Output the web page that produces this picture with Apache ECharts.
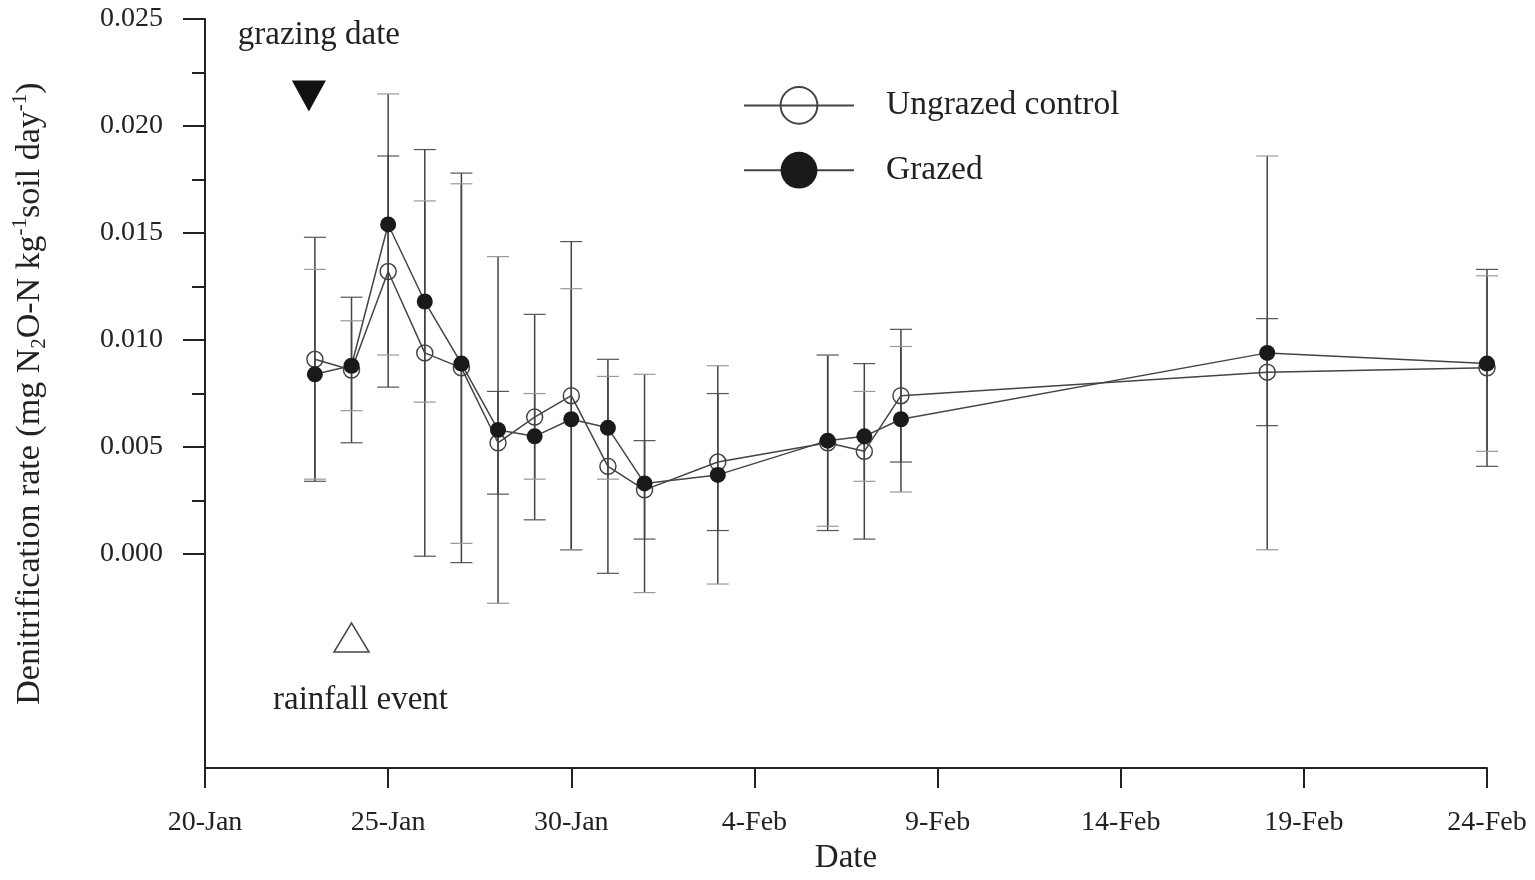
<!DOCTYPE html>
<html><head><meta charset="utf-8">
<script src="https://cdn.jsdelivr.net/npm/echarts@6/dist/echarts.min.js"></script>
<style>html,body{margin:0;padding:0;background:#fff}#c{width:1535px;height:880px}</style>
</head><body><div id="c"></div>
<script>
// ---- data ----
const startDate = '20-Jan';
const dates = ['23-Jan','24-Jan','25-Jan','26-Jan','27-Jan','28-Jan','29-Jan','30-Jan','31-Jan','1-Feb','3-Feb','6-Feb','7-Feb','8-Feb','18-Feb','24-Feb'];
const ungrazed    = [0.0091,0.0086,0.0132,0.0094,0.0087,0.0052,0.0064,0.0074,0.0041,0.0030,0.0043,0.0052,0.0048,0.0074,0.0085,0.0087];
const ungrazedErr = [0.0057,0.0034,0.0054,0.0095,0.0091,0.0024,0.0048,0.0072,0.0050,0.0023,0.0032,0.0041,0.0041,0.0031,0.0025,0.0046];
const grazed      = [0.0084,0.0088,0.0154,0.0118,0.0089,0.0058,0.0055,0.0063,0.0059,0.0033,0.0037,0.0053,0.0055,0.0063,0.0094,0.0089];
const grazedErr   = [0.0049,0.0021,0.0061,0.0047,0.0084,0.0081,0.0020,0.0061,0.0024,0.0051,0.0051,0.0040,0.0021,0.0034,0.0092,0.0041];
const xTickLabels = ['20-Jan','25-Jan','30-Jan','4-Feb','9-Feb','14-Feb','19-Feb','24-Feb'];
const yTickLabels = ['0.000','0.005','0.010','0.015','0.020','0.025'];
const yMinorTicks = [0.0025,0.0075,0.0125,0.0175,0.0225];
const grazingMarker  = ['23-Jan', 0.0214];
const rainfallMarker = ['24-Jan', -0.0039];

// ---- helpers ----
const monthStart = {Jan:0, Feb:31, Mar:59};
function dayNum(s){ const [d,m] = s.split('-'); return parseInt(d,10) + monthStart[m]; }
const dayOf = s => dayNum(s) - dayNum(startDate);
const SERIF = "'Liberation Serif','Times New Roman',serif";
const INK = '#222';

function errSeries(vals, errs, capColor){
  return {
    type:'custom', silent:true, z:1,
    data: dates.map((d,i)=>[dayOf(d), vals[i]-errs[i], vals[i]+errs[i]]),
    encode:{x:0, y:[1,2]},
    renderItem(params, api){
      const x = api.value(0);
      const lo = api.coord([x, api.value(1)]);
      const hi = api.coord([x, api.value(2)]);
      const w = 11;
      return {type:'group', children:[
        {type:'line', shape:{x1:lo[0],y1:lo[1],x2:hi[0],y2:hi[1]}, style:{stroke:'#444',lineWidth:1.5}},
        {type:'line', shape:{x1:lo[0]-w,y1:lo[1],x2:lo[0]+w,y2:lo[1]}, style:{stroke:capColor,lineWidth:1.2}},
        {type:'line', shape:{x1:hi[0]-w,y1:hi[1],x2:hi[0]+w,y2:hi[1]}, style:{stroke:capColor,lineWidth:1.2}}
      ]};
    }
  };
}

const chart = echarts.init(document.getElementById('c'), null, {renderer:'canvas'});
const yMax = 0.025, yMin = -0.01;
chart.setOption({
  animation:false,
  backgroundColor:'#fff',
  textStyle:{fontFamily:SERIF, color:INK},
  grid:{left:205, right:48, top:19, bottom:107, containLabel:false},
  legend:{
    left:738, top:81, orient:'vertical', itemWidth:110, itemHeight:46, itemGap:27,
    data:['Ungrazed control','Grazed'],
    textStyle:{fontFamily:SERIF, fontSize:33.5, color:INK, padding:[0,0,0,27]}
  },
  xAxis:{
    type:'value', min:0, max:35, interval:5,
    axisLine:{show:true, onZero:false, lineStyle:{color:INK, width:2}},
    axisTick:{show:true, length:20, lineStyle:{color:INK, width:2}},
    splitLine:{show:false},
    axisLabel:{margin:41, fontSize:28, color:INK, fontFamily:SERIF,
      formatter:(v)=>xTickLabels[Math.round(v/5)] || ''},
    name:'Date', nameLocation:'middle', nameGap:72,
    nameTextStyle:{fontSize:33, color:INK, fontFamily:SERIF}
  },
  yAxis:[{
    type:'value', min:yMin, max:yMax,
    axisLine:{show:true, onZero:false, lineStyle:{color:INK, width:2}},
    axisTick:{show:true, length:22, lineStyle:{color:INK, width:2},
      customValues: yTickLabels.map(Number)},
    axisLabel:{margin:42, fontSize:28, color:INK, fontFamily:SERIF,
      customValues: yTickLabels.map(Number), formatter:(v)=>v.toFixed(3)},
    splitLine:{show:false},
    name:'Denitrification rate (mg N{sub|2}O-N kg{sup|-1}soil day{sup|-1})',
    nameLocation:'middle', nameGap:155,
    nameTextStyle:{fontSize:34, color:INK, fontFamily:SERIF, lineHeight:40,
      rich:{
        sub:{fontSize:21, fontFamily:SERIF, color:INK, verticalAlign:'bottom', lineHeight:40},
        sup:{fontSize:21, fontFamily:SERIF, color:INK, verticalAlign:'top', lineHeight:40}
      }}
  },{
    type:'value', min:yMin, max:yMax, position:'left',
    axisLine:{show:false, onZero:false},
    axisTick:{show:true, length:13, lineStyle:{color:INK, width:2}, customValues: yMinorTicks},
    axisLabel:{show:false}, splitLine:{show:false}
  }],
  series:[
    errSeries(ungrazed, ungrazedErr, '#555'),
    errSeries(grazed, grazedErr, '#999'),
    {
      name:'Ungrazed control', type:'line', z:3,
      data: dates.map((d,i)=>[dayOf(d), ungrazed[i]]),
      symbol:'circle', symbolSize:16, showAllSymbol:true,
      lineStyle:{color:'#444', width:1.5},
      itemStyle:{color:'rgba(255,255,255,0)', borderColor:'#444', borderWidth:1.5}
    },
    {
      name:'Grazed', type:'line', z:4,
      data: dates.map((d,i)=>[dayOf(d), grazed[i]]),
      symbol:'circle', symbolSize:16, showAllSymbol:true,
      lineStyle:{color:'#444', width:1.5},
      itemStyle:{color:'#1a1a1a', borderColor:'#1a1a1a', borderWidth:0}
    },
    {
      type:'scatter', silent:true, z:5,
      data:[[dayOf(grazingMarker[0]), grazingMarker[1]]],
      symbol:'triangle', symbolRotate:180, symbolSize:[34,31], symbolOffset:[-6,0],
      itemStyle:{color:'#111', opacity:1},
      label:{show:true, position:'top', distance:29, offset:[10,0], formatter:'grazing date',
        fontSize:33, fontFamily:SERIF, color:INK, opacity:1}
    },
    {
      type:'scatter', silent:true, z:5,
      data:[[dayOf(rainfallMarker[0]), rainfallMarker[1]]],
      symbol:'triangle', symbolSize:[35,29],
      itemStyle:{color:'#fff', borderColor:'#444', borderWidth:1.5, opacity:1},
      label:{show:true, position:'bottom', distance:31, offset:[9,0], formatter:'rainfall event',
        fontSize:33, fontFamily:SERIF, color:INK, opacity:1}
    }
  ]
});
</script>
</body></html>
